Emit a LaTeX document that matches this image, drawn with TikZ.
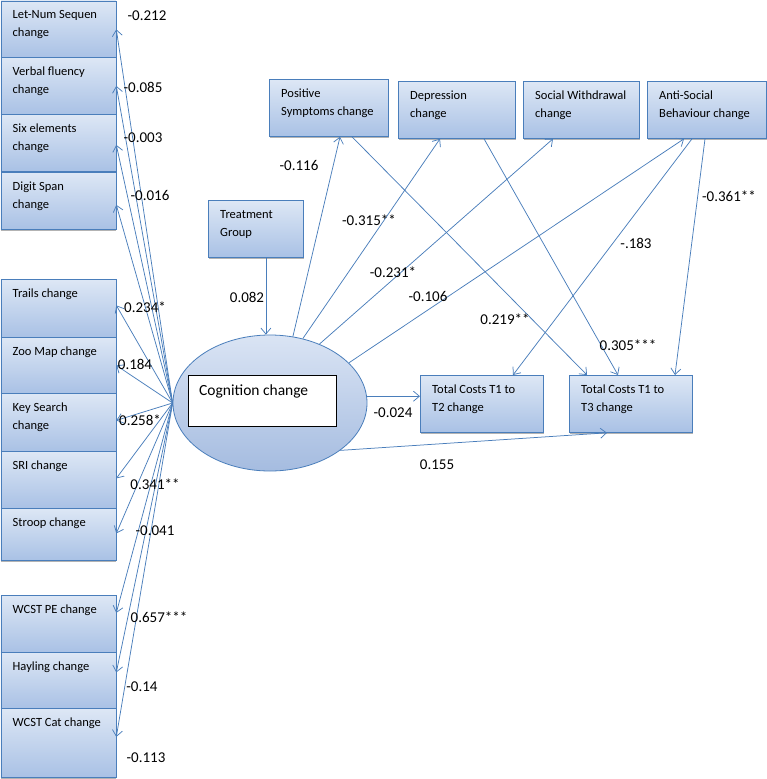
\documentclass[tikz,border=0pt]{standalone}
\usepackage{fontspec}
\setmainfont{Carlito}
\usetikzlibrary{arrows.meta,shapes.geometric,shadows}
\definecolor{bline}{HTML}{4A7EBB}
\definecolor{btop}{HTML}{DDE7F5}
\definecolor{bbot}{HTML}{A9C1E5}
\definecolor{etop}{HTML}{DAE4F4}
\definecolor{ebot}{HTML}{A5BCE0}
\begin{document}
\begin{tikzpicture}[x=1pt,y=-1pt,
 box/.style={draw=bline, line width=0.8pt, top color=btop, bottom color=bbot, rectangle, inner sep=0pt, anchor=north west,
   drop shadow={shadow xshift=0.3pt, shadow yshift=-1.5pt, fill=black!50, opacity=0.6}},
 btxt/.style={anchor=base west, xshift=12pt, yshift=-18pt, align=left, inner sep=0pt, font=\fontsize{12.5}{18}\selectfont},
 btxtb/.style={btxt, yshift=-18pt},
 ctxt/.style={anchor=base west, xshift=11pt, yshift=-20pt, align=left, inner sep=0pt, font=\fontsize{15.5}{19}\selectfont},
 conn/.style={draw=bline, line width=0.75pt, -{Straight Barb[length=6pt,width=10pt]}},
 num/.style={font=\fontsize{15}{18}\selectfont, inner sep=0pt}
]
\useasboundingbox (0,0) rectangle (767,779);

% left column
\node[box, minimum width=115pt, minimum height=57pt, label={[btxtb]north west:Let-Num Sequen\\change}] (ln) at (0.5,0.5) {};
\node[box, minimum width=115pt, minimum height=57pt, label={[btxtb]north west:Verbal fluency\\change}] (vf) at (0.5,57) {};
\node[box, minimum width=115pt, minimum height=57pt, label={[btxtb]north west:Six elements\\change}] (se) at (0.5,114) {};
\node[box, minimum width=115pt, minimum height=57pt, label={[btxtb]north west:Digit Span\\change}] (ds) at (0.5,172) {};
\node[box, minimum width=115pt, minimum height=58pt, label={[btxt]north west:Trails change}] (tr) at (0.5,279) {};
\node[box, minimum width=115pt, minimum height=56pt, label={[btxt]north west:Zoo Map change}] (zm) at (0.5,337) {};
\node[box, minimum width=115pt, minimum height=58pt, label={[btxtb]north west:Key Search\\change}] (ks) at (0.5,393) {};
\node[box, minimum width=115pt, minimum height=57pt, label={[btxt]north west:SRI change}] (sri) at (0.5,451) {};
\node[box, minimum width=115pt, minimum height=52pt, label={[btxt]north west:Stroop change}] (st) at (0.5,508) {};
\node[box, minimum width=115pt, minimum height=57pt, label={[btxt]north west:WCST PE change}] (pe) at (0.5,595) {};
\node[box, minimum width=115pt, minimum height=56pt, label={[btxt]north west:Hayling change}] (hay) at (0.5,652) {};
\node[box, minimum width=115pt, minimum height=69pt, label={[btxt]north west:WCST Cat change}] (cat) at (0.5,708) {};

% top row
\node[box, minimum width=119pt, minimum height=57pt, label={[btxtb]north west:Positive\\Symptoms change}] (pos) at (269,79) {};
\node[box, minimum width=117pt, minimum height=57pt, label={[btxtb]north west:Depression\\change}] (dep) at (398,81) {};
\node[box, minimum width=116pt, minimum height=57pt, label={[btxtb]north west:Social Withdrawal\\change}] (soc) at (523,81) {};
\node[box, minimum width=119pt, minimum height=57pt, label={[btxtb]north west:Anti-Social\\Behaviour change}] (anti) at (647,81) {};
\node[box, minimum width=95pt, minimum height=57pt, label={[btxtb]north west:Treatment\\Group}] (treat) at (208,200) {};
\node[box, minimum width=123pt, minimum height=57pt, label={[btxtb]north west:Total Costs T1 to\\T2 change}] (t2) at (420,375) {};
\node[box, minimum width=123pt, minimum height=57pt, label={[btxtb]north west:Total Costs T1 to\\T3 change}] (t3) at (569,375) {};

% ellipse
\node[ellipse, draw=bline, line width=0.8pt, top color=etop, bottom color=ebot, minimum width=194pt, minimum height=136pt, inner sep=0pt] (cog) at (270,403) {};
\node[draw=black, fill=white, line width=0.8pt, minimum width=148pt, minimum height=51pt, anchor=north west, inner sep=0pt,
  label={[ctxt]north west:Cognition change}] (cogbox) at (188,375) {};

% left connectors
\draw[conn] (cog.west) -- (ln.east);
\draw[conn] (cog.west) -- (vf.east);
\draw[conn] (cog.west) -- ([yshift=-2pt]se.east);
\draw[conn] (cog.west) -- ([yshift=-4pt]ds.east);
\draw[conn] (cog.west) -- ([yshift=3pt]tr.east);
\draw[conn] (cog.west) -- (zm.east);
\draw[conn] (cog.west) -- ([yshift=2pt]ks.east);
\draw[conn] (cog.west) -- ([yshift=1.5pt]sri.east);
\draw[conn] (cog.west) -- ([yshift=1pt]st.east);
\draw[conn] (cog.west) -- ([yshift=11pt]pe.east);
\draw[conn] (cog.west) -- ([yshift=8pt]hay.east);
\draw[conn] (cog.west) -- ([yshift=6pt]cat.east);

% other connectors
\draw[conn] ([xshift=10pt]treat.south) -- ([xshift=10pt]treat.south |- cog.north);
\draw[conn] (cog.71) -- ([xshift=71pt]pos.south west);
\draw[conn] (cog.63) -- ([xshift=42pt]dep.south west);
\draw[conn] (cog.50) -- ([xshift=30pt]soc.south west);
\draw[conn] (cog.27) -- ([xshift=37pt]anti.south west);
\draw[conn] ([xshift=83pt]pos.south west) -- ([xshift=18pt]t3.north west);
\draw[conn] ([xshift=86pt]dep.south west) -- ([xshift=49pt]t3.north west);
\draw[conn] ([xshift=45pt]anti.south west) -- ([xshift=93pt]t2.north west);
\draw[conn] ([xshift=58pt]anti.south west) -- ([xshift=106pt]t3.north west);
\draw[conn] (cog.4) -- (cog.4 -| t2.west);
\draw[conn] (cog.-34) -- ([xshift=38pt]t3.south west);

% coefficients
\node[num] (n1) at (147,16) {-0.212};
\node[num] (n2) at (143,87) {-0.085};
\node[num] (n3) at (143,138) {-0.003};
\node[num] (n4) at (150,195) {-0.016};
\node[num] (n5) at (145,307) {0.234*};
\node[num] (n6) at (135,364) {0.184};
\node[num] (n7) at (140,420) {0.258*};
\node[num] (n8) at (155,484) {0.341**};
\node[num] (n9) at (155,531) {-0.041};
\node[num] (n10) at (159,617) {0.657***};
\node[num] (n11) at (142,687) {-0.14};
\node[num] (n12) at (146,758) {-0.113};
\node[num] (n13) at (299,165) {-0.116};
\node[num] (n14) at (369,220) {-0.315**};
\node[num] (n15) at (393,272) {-0.231*};
\node[num] (n16) at (428,296) {-0.106};
\node[num] (n17) at (247,297) {0.082};
\node[num] (n18) at (393,413) {-0.024};
\node[num] (n19) at (437,465) {0.155};
\node[num] (n20) at (636,243) {-.183};
\node[num] (n21) at (729,196) {-0.361**};
\node[num] (n22) at (505,319) {0.219**};
\node[num] (n23) at (628,345) {0.305***};
\end{tikzpicture}
\end{document}
